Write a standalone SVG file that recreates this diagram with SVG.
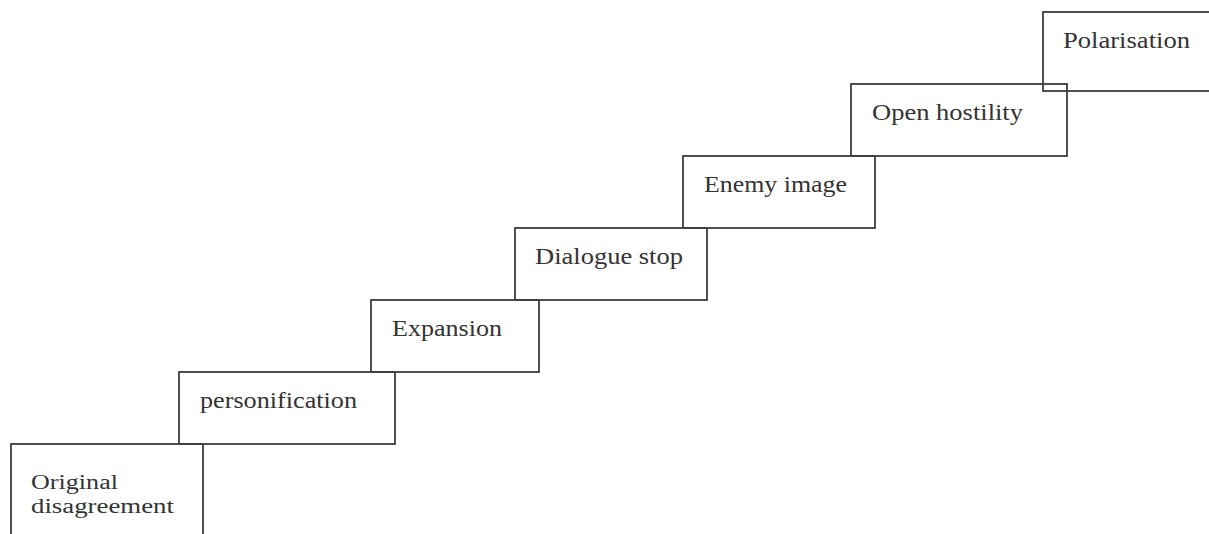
<svg xmlns="http://www.w3.org/2000/svg" width="1209" height="534" viewBox="0 0 1209 534">
  <style>
    .box { fill: none; stroke: #3d3d3d; stroke-width: 1.8; }
    .lbl { font-family: "Liberation Serif", "DejaVu Serif", serif; font-size: 24px; fill: #333333; }
    .lbl2 { font-size: 20.5px; }
  </style>
  <rect width="1209" height="534" fill="#ffffff"/>
  <g id="node-original">
    <rect class="box" x="11" y="444" width="192" height="100"/>
    <text class="lbl lbl2" x="31" y="489" textLength="87" lengthAdjust="spacingAndGlyphs">Original</text>
    <text class="lbl lbl2" x="31" y="512.5" textLength="143" lengthAdjust="spacingAndGlyphs">disagreement</text>
  </g>
  <g id="node-personification">
    <rect class="box" x="179" y="372" width="216" height="72"/>
    <text class="lbl" x="200" y="408" textLength="157" lengthAdjust="spacingAndGlyphs">personification</text>
  </g>
  <g id="node-expansion">
    <rect class="box" x="371" y="300" width="168" height="72"/>
    <text class="lbl" x="392" y="336" textLength="110" lengthAdjust="spacingAndGlyphs">Expansion</text>
  </g>
  <g id="node-dialogue">
    <rect class="box" x="515" y="228" width="192" height="72"/>
    <text class="lbl" x="535" y="264" textLength="148" lengthAdjust="spacingAndGlyphs">Dialogue stop</text>
  </g>
  <g id="node-enemy">
    <rect class="box" x="683" y="156" width="192" height="72"/>
    <text class="lbl" x="704" y="192" textLength="143" lengthAdjust="spacingAndGlyphs">Enemy image</text>
  </g>
  <g id="node-hostility">
    <rect class="box" x="851" y="84" width="216" height="72"/>
    <text class="lbl" x="872" y="120" textLength="151" lengthAdjust="spacingAndGlyphs">Open hostility</text>
  </g>
  <g id="node-polarisation">
    <rect class="box" x="1043" y="12" width="180" height="79"/>
    <text class="lbl" x="1063" y="48" textLength="127" lengthAdjust="spacingAndGlyphs">Polarisation</text>
  </g>
  <g id="connectors"></g>
</svg>
